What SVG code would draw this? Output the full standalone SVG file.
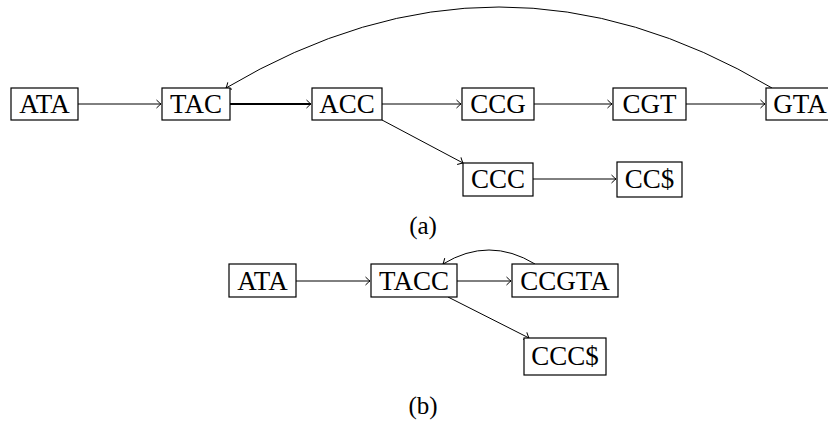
<svg xmlns="http://www.w3.org/2000/svg" width="828" height="421" viewBox="0 0 828 421">
  <style>
    .box { fill: #fff; stroke: #000; stroke-width: 1.2; }
    .lbl { font-family: "Liberation Serif", "DejaVu Serif", serif; font-size: 27px; fill: #000; text-anchor: middle; }
    .cap { font-family: "Liberation Serif", "DejaVu Serif", serif; font-size: 25px; fill: #000; text-anchor: middle; }
    .edge { fill: none; stroke: #000; stroke-width: 1; marker-end: url(#arr); }
  </style>
  <defs>
    <marker id="arr" markerUnits="userSpaceOnUse" markerWidth="12" markerHeight="12" viewBox="-6 -6 12 12" refX="0" refY="0" orient="auto">
      <path d="M -4.5 -4 Q -1.2 -0.8 0 0 Q -1.2 0.8 -4.5 4" fill="none" stroke="#000" stroke-width="1"/>
    </marker>
  </defs>

  <!-- connectors -->
  <g id="edges">
    <!-- (a) -->
    <line class="edge" x1="78" y1="104" x2="161" y2="104"/>
    <line class="edge" x1="230" y1="104" x2="311" y2="104" style="stroke-width:1.8"/>
    <line class="edge" x1="382" y1="104" x2="461" y2="104"/>
    <line class="edge" x1="534" y1="104" x2="612" y2="104"/>
    <line class="edge" x1="686" y1="104" x2="765" y2="104"/>
    <line class="edge" x1="382" y1="120" x2="463" y2="163"/>
    <line class="edge" x1="533" y1="179" x2="616" y2="179"/>
    <path class="edge" d="M 772 88 Q 499 -74 226 88"/>
    <!-- (b) -->
    <line class="edge" x1="296" y1="281" x2="370" y2="281"/>
    <line class="edge" x1="457" y1="281" x2="511" y2="281"/>
    <line class="edge" x1="448" y1="297" x2="529" y2="338"/>
    <path class="edge" d="M 535 264 Q 489 236 443 264"/>
  </g>

  <!-- (a) nodes -->
  <g id="a-ATA"><rect class="box" x="11" y="88" width="67" height="32"/><text class="lbl" x="44.5" y="113">ATA</text></g>
  <g id="a-TAC"><rect class="box" x="162" y="88" width="68" height="32"/><text class="lbl" x="196" y="113">TAC</text></g>
  <g id="a-ACC"><rect class="box" x="312" y="88" width="70" height="32"/><text class="lbl" x="347" y="113">ACC</text></g>
  <g id="a-CCG"><rect class="box" x="462" y="88" width="72" height="32"/><text class="lbl" x="498" y="113">CCG</text></g>
  <g id="a-CGT"><rect class="box" x="613" y="88" width="73" height="32"/><text class="lbl" x="649.5" y="113">CGT</text></g>
  <g id="a-GTA"><rect class="box" x="766" y="88" width="68" height="32"/><text class="lbl" x="800" y="113">GTA</text></g>
  <g id="a-CCC"><rect class="box" x="463" y="163" width="70" height="33"/><text class="lbl" x="498" y="188">CCC</text></g>
  <g id="a-CCD"><rect class="box" x="617" y="162" width="65" height="35"/><text class="lbl" x="649.5" y="188">CC$</text></g>
  <text class="cap" x="423" y="234">(a)</text>

  <!-- (b) nodes -->
  <g id="b-ATA"><rect class="box" x="229" y="264" width="67" height="33"/><text class="lbl" x="262.5" y="290">ATA</text></g>
  <g id="b-TACC"><rect class="box" x="371" y="264" width="86" height="33"/><text class="lbl" x="414" y="290">TACC</text></g>
  <g id="b-CCGTA"><rect class="box" x="512" y="264" width="106" height="33"/><text class="lbl" x="565" y="290">CCGTA</text></g>
  <g id="b-CCCD"><rect class="box" x="524" y="338" width="82" height="37"/><text class="lbl" x="565" y="365">CCC$</text></g>
  <text class="cap" x="423" y="414">(b)</text>
</svg>
